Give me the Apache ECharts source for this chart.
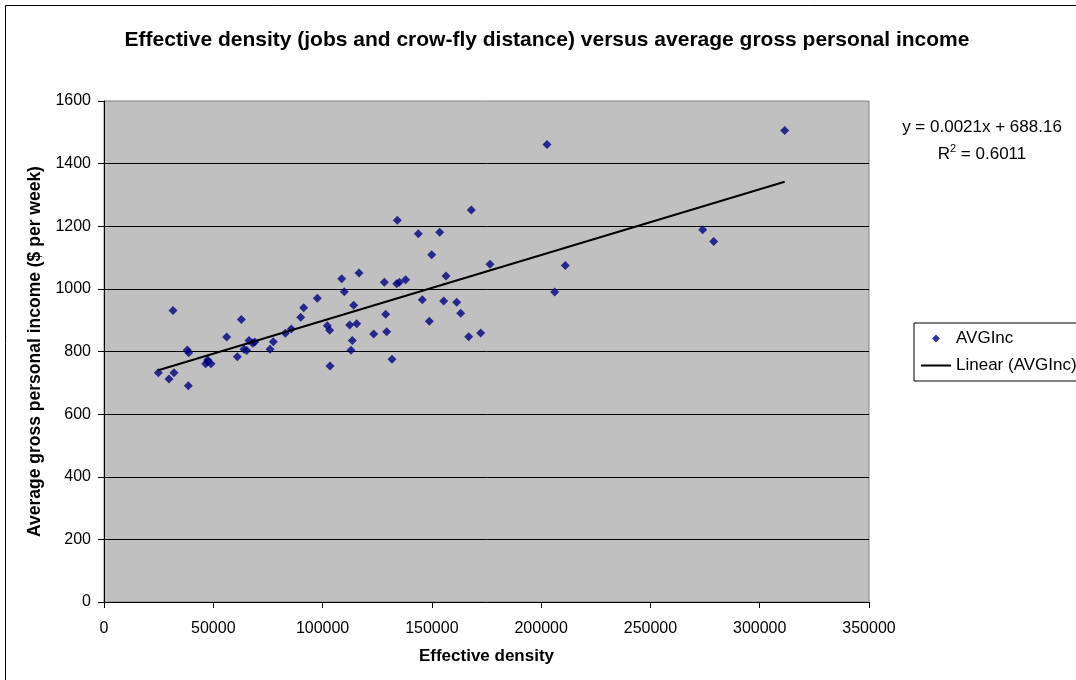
<!DOCTYPE html>
<html>
<head>
<meta charset="utf-8">
<script src="https://cdn.jsdelivr.net/npm/echarts@6/dist/echarts.min.js"></script>
<style>
  html, body { margin: 0; padding: 0; background: #fff; }
  #chart { width: 1076px; height: 680px; }
</style>
</head>
<body>
<div id="chart"></div>
<script>
// Effective density (jobs, crow-fly distance) against average weekly gross income
const effectiveDensity = [
  24840, 29740, 32025, 31568, 38110, 38750, 38580, 46510, 47430, 48950,
  47580, 56130, 61000, 62830, 66340, 64050, 65280, 68030, 68940, 75945,
  77470, 82950, 85700, 89980, 91360, 97600, 108740, 109960, 116660, 114240,
  102170, 103260, 103400, 112400, 115610, 113610, 113000, 123390, 128250, 128870,
  129330, 131760, 134190, 133900, 135100, 138010, 143810, 153570, 149910, 145640,
  148840, 155410, 156460, 161360, 163190, 166850, 172340, 168050, 176600, 202670,
  311420, 273900, 278940, 211050, 206190
];
const avgIncome = [
  732, 712, 732, 931, 805, 796, 691, 761, 773, 761,
  768, 846, 783, 902, 835, 807, 803, 826, 830, 807,
  831, 858, 872, 909, 940, 970, 1032, 991, 1051, 948,
  882, 868, 754, 885, 889, 835, 804, 856, 1021, 919,
  863, 775, 1219, 1016, 1021, 1029, 1176, 1181, 1109, 965,
  897, 961, 1041, 957, 922, 847, 859, 1252, 1079, 1461,
  1506, 1189, 1151, 1075, 990
];

// Linear trendline fitted to the series
const trendSlope = 0.0021;
const trendIntercept = 688.16;
const trendR2 = 0.6011;

const xTicks = { min: 0, max: 350000, interval: 50000 };
const yTicks = { min: 0, max: 1600, interval: 200 };

const FONT = '"Liberation Sans", Arial, sans-serif';

const points = effectiveDensity.map((x, i) => [x, avgIncome[i]]);
const xLo = Math.min(...effectiveDensity);
const xHi = Math.max(...effectiveDensity);
const trendPoints = [xLo, xHi].map(x => [x, trendSlope * x + trendIntercept]);

const plainNumber = v => String(v);

const chart = echarts.init(document.getElementById('chart'), null, { renderer: 'canvas' });

chart.setOption({
  backgroundColor: '#ffffff',
  animation: false,
  textStyle: { fontFamily: FONT, color: '#000' },
  grid: {
    left: 104, top: 101, right: 207, bottom: 78,
    show: true, backgroundColor: '#C0C0C0', borderColor: '#808080', borderWidth: 1
  },
  xAxis: {
    type: 'value',
    min: xTicks.min, max: xTicks.max, interval: xTicks.interval,
    name: 'Effective density',
    nameLocation: 'middle', nameGap: 46,
    nameTextStyle: { fontFamily: FONT, fontSize: 17, fontWeight: 'bold', color: '#000' },
    axisLine: { show: true, onZero: false, lineStyle: { color: '#000', width: 1 } },
    axisTick: { show: true, inside: false, length: 6, lineStyle: { color: '#000' } },
    axisLabel: { fontFamily: FONT, fontSize: 16, color: '#000', margin: 19, formatter: plainNumber },
    splitLine: { show: false }
  },
  yAxis: {
    type: 'value',
    min: yTicks.min, max: yTicks.max, interval: yTicks.interval,
    name: 'Average gross personal income ($ per week)',
    nameLocation: 'middle', nameGap: 55,
    nameTextStyle: { fontFamily: FONT, fontSize: 17.5, fontWeight: 'bold', color: '#000' },
    axisLine: { show: true, onZero: false, lineStyle: { color: '#000', width: 1 } },
    axisTick: { show: true, inside: false, length: 6, lineStyle: { color: '#000' } },
    axisLabel: { fontFamily: FONT, fontSize: 16, color: '#000', margin: 13, formatter: plainNumber },
    splitLine: { show: true, showMinLine: false, showMaxLine: false, lineStyle: { color: '#000', width: 1 } }
  },
  legend: {
    orient: 'vertical',
    left: 914, top: 323,
    padding: [7, 40, 7, 7],
    itemGap: 10,
    itemWidth: 30, itemHeight: 8,
    symbolKeepAspect: true,
    backgroundColor: '#ffffff',
    borderColor: '#000', borderWidth: 1, borderRadius: 0,
    textStyle: { fontFamily: FONT, fontSize: 17, color: '#000' },
    data: [
      { name: 'AVGInc', icon: 'path://M0,-1L1,0L0,1L-1,0Z', itemStyle: { color: '#000080', borderWidth: 0 } },
      { name: 'Linear (AVGInc)', icon: 'path://M0,0L30,0L30,2L0,2Z', itemStyle: { color: '#000', borderWidth: 0 } }
    ]
  },
  series: [
    {
      name: 'AVGInc',
      type: 'scatter',
      data: points,
      symbol: 'diamond',
      symbolSize: 9,
      itemStyle: { color: '#000080' },
      z: 3
    },
    {
      name: 'Linear (AVGInc)',
      type: 'line',
      data: trendPoints,
      symbol: 'none',
      lineStyle: { color: '#000', width: 2 },
      itemStyle: { color: '#000' },
      z: 4
    }
  ],
  graphic: [
    {
      type: 'rect', silent: true,
      shape: { x: 5.5, y: 5.5, width: 1200, height: 1000 },
      style: { fill: null, stroke: '#000', lineWidth: 1 }
    },
    {
      type: 'text', x: 547, y: 40,
      style: {
        text: 'Effective density (jobs and crow-fly distance) versus average gross personal income',
        font: 'bold 21px ' + FONT, fill: '#000',
        textAlign: 'center', textVerticalAlign: 'middle'
      }
    },
    {
      type: 'text', x: 982, y: 127,
      style: {
        text: 'y = ' + trendSlope.toFixed(4) + 'x + ' + trendIntercept.toFixed(2),
        font: '17px ' + FONT, fill: '#000',
        textAlign: 'center', textVerticalAlign: 'middle'
      }
    },
    {
      type: 'text', x: 982, y: 153,
      style: {
        text: '{b|R}{s|2}{b| = ' + trendR2.toFixed(4) + '}',
        rich: {
          b: { font: '17px ' + FONT, fill: '#000', verticalAlign: 'bottom' },
          s: { font: '11px ' + FONT, fill: '#000', padding: [0, 0, 9, 0] }
        },
        textAlign: 'center', textVerticalAlign: 'middle'
      }
    }
  ]
});
</script>
</body>
</html>
